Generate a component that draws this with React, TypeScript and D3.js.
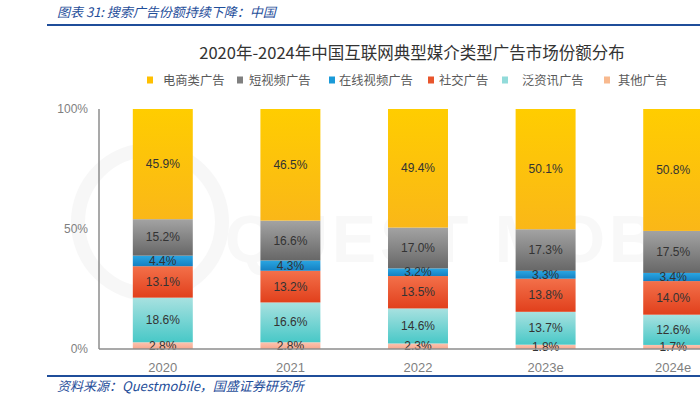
import React from "react";
import * as d3 from "d3";

const years = ["2020", "2021", "2022", "2023e", "2024e"];
// bottom to top
const seriesNames = ["其他广告", "泛资讯广告", "社交广告", "在线视频广告", "短视频广告", "电商类广告"];
const other = [2.8, 2.8, 2.3, 1.8, 1.7];
const news = [18.6, 16.6, 14.6, 13.7, 12.6];
const social = [13.1, 13.2, 13.5, 13.8, 14.0];
const onlineVideo = [4.4, 4.3, 3.2, 3.3, 3.4];
const shortVideo = [15.2, 16.6, 17.0, 17.3, 17.5];
const ecommerce = [45.9, 46.5, 49.4, 50.1, 50.8];
const legendOrder = ["电商类广告", "短视频广告", "在线视频广告", "社交广告", "泛资讯广告", "其他广告"];
const yTicks = [0, 50, 100];

const seriesValues = [other, news, social, onlineVideo, shortVideo, ecommerce];

// gradient top/bottom colours per series, plus legend swatch
const colors: Record<string, { top: string; bottom: string; legend: string }> = {
  "电商类广告": { top: "#ffcd00", bottom: "#fab718", legend: "#ffc000" },
  "短视频广告": { top: "#a3a3a3", bottom: "#676767", legend: "#808080" },
  "在线视频广告": { top: "#2aa6e2", bottom: "#1580c2", legend: "#1a9ad8" },
  "社交广告": { top: "#f3704a", bottom: "#e1401c", legend: "#e8552c" },
  "泛资讯广告": { top: "#a8e1e0", bottom: "#48c8c7", legend: "#92dbda" },
  "其他广告": { top: "#fbc4b0", bottom: "#f6a88e", legend: "#f8b98e" },
};

const legendSwatchX = [147, 237, 329, 428, 502, 604];
const legendTextX = [163, 249, 339, 439, 522, 618];

const App = () => {
  const width = 700;
  const height = 397;

  const x = d3
    .scaleBand<string>()
    .domain(years)
    .range([99, 737])
    .paddingInner(0.53)
    .paddingOuter(0.265);

  const y = d3.scaleLinear().domain([0, 100]).range([349, 109]);

  const rows = years.map((yr, i) => {
    const r: any = { year: yr };
    seriesNames.forEach((s, k) => (r[s] = seriesValues[k][i]));
    return r;
  });
  const stacked = d3.stack<any>().keys(seriesNames)(rows);

  const font = "'Liberation Sans', Arial, 'Noto Sans CJK SC', sans-serif";
  const cjk = "'Noto Sans CJK SC', 'Liberation Sans', sans-serif";

  return (
    <svg
      width={width}
      height={height}
      style={{ position: "absolute", left: 0, top: 0, background: "#fff" }}
    >
      <defs>
        {seriesNames.map((s, k) => (
          <linearGradient key={s} id={`g${k}`} x1="0" y1="0" x2="0" y2="1">
            <stop offset="0%" stopColor={colors[s].top} />
            <stop offset="100%" stopColor={colors[s].bottom} />
          </linearGradient>
        ))}
        <clipPath id="plotclip">
          <rect x={0} y={0} width={width} height={height} />
        </clipPath>
      </defs>

      {/* header */}
      <text
        x={57}
        y={17}
        fontFamily={cjk}
        fontStyle="italic"
        fontSize={13}
        fill="#1f4e9a"
      >
        图表 31:  搜索广告份额持续下降：中国
      </text>
      <line x1={47} x2={700} y1={25} y2={25} stroke="#1f4e9a" strokeWidth={2} />

      {/* watermark */}
      <g opacity={0.45}>
        <circle cx={150} cy={222} r={72} fill="none" stroke="#eeeeee" strokeWidth={14} />
        <text
          x={225}
          y={262}
          fontFamily={font}
          fontSize={66}
          fontWeight="bold"
          fill="#f0f0f0"
          letterSpacing={4}
        >
          QUEST MOBILE
        </text>
      </g>

      {/* title */}
      <text
        x={412}
        y={59}
        textAnchor="middle"
        fontFamily={cjk}
        fontSize={16.5}
        fill="#333"
      >
        2020年-2024年中国互联网典型媒介类型广告市场份额分布
      </text>

      {/* legend */}
      {legendOrder.map((s, i) => (
        <g key={s}>
          <rect x={legendSwatchX[i]} y={76.5} width={6} height={7} fill={colors[s].legend} />
          <text x={legendTextX[i]} y={85} fontFamily={cjk} fontSize={12.3} fill="#595959">
            {s}
          </text>
        </g>
      ))}

      {/* bars */}
      <g clipPath="url(#plotclip)">
        {stacked.map((layer, k) =>
          layer.map((d, i) => {
            const x0 = x(years[i]) as number;
            const y0 = y(d[1]);
            const h = y(d[0]) - y(d[1]);
            return (
              <rect
                key={`${k}-${i}`}
                x={x0}
                y={y0}
                width={x.bandwidth()}
                height={h}
                fill={`url(#g${k})`}
              />
            );
          })
        )}
        {stacked.map((layer, k) =>
          layer.map((d, i) => (
            <text
              key={`t${k}-${i}`}
              x={(x(years[i]) as number) + x.bandwidth() / 2}
              y={(y(d[0]) + y(d[1])) / 2 + 4}
              textAnchor="middle"
              fontFamily={font}
              fontSize={12}
              fill="#333"
            >
              {seriesValues[k][i].toFixed(1)}%
            </text>
          ))
        )}
      </g>

      {/* axes */}
      <line x1={99} x2={99} y1={y(100)} y2={y(0)} stroke="#8c8c8c" strokeWidth={1.5} />
      <line x1={99} x2={700} y1={y(0)} y2={y(0)} stroke="#8c8c8c" strokeWidth={1.5} />
      {yTicks.map((t) => (
        <text
          key={t}
          x={88}
          y={y(t) + 4}
          textAnchor="end"
          fontFamily={font}
          fontSize={12}
          fill="#7f7f7f"
        >
          {t}%
        </text>
      ))}
      {years.map((yr) => (
        <text
          key={yr}
          x={(x(yr) as number) + x.bandwidth() / 2}
          y={372}
          textAnchor="middle"
          fontFamily={font}
          fontSize={13}
          fill="#7f7f7f"
        >
          {yr}
        </text>
      ))}

      {/* source */}
      <line x1={47} x2={700} y1={376} y2={376} stroke="#1f4e9a" strokeWidth={2} />
      <text
        x={57}
        y={391}
        fontFamily={cjk}
        fontStyle="italic"
        fontSize={13}
        fill="#1f4e9a"
      >
        资料来源：Questmobile，国盛证券研究所
      </text>
    </svg>
  );
};

export default App;
